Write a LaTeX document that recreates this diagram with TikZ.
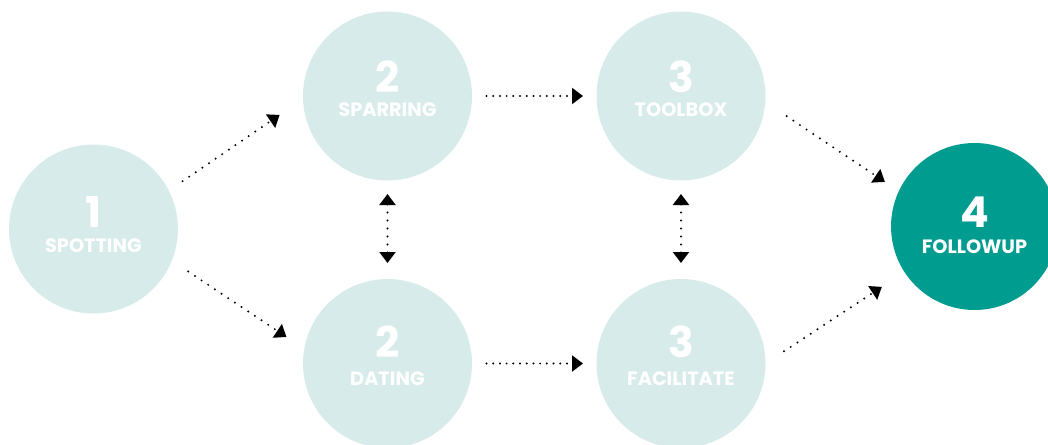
\documentclass[tikz,border=0pt]{standalone}
\usepackage{fontspec}
\setmainfont{Poppins}
\usetikzlibrary{arrows.meta}
\definecolor{mist}{HTML}{D7EBEA}
\definecolor{deepteal}{HTML}{009C8F}
\tikzset{
  stage/.style={circle, fill=mist, minimum size=169pt, inner sep=0pt, outer sep=0pt},
  finalstage/.style={stage, fill=deepteal, minimum size=167pt},
  num/.style={text=white, font=\fontsize{42.5}{42.5}\selectfont\bfseries, anchor=base, inner sep=0pt},
  lbl/.style={text=white, font=\fontsize{19.3}{19.3}\selectfont\bfseries, anchor=base, inner sep=0pt},
  flow/.style={line width=2.2pt, line cap=round, dash pattern=on 0pt off 8pt, ->},
  flowh/.style={flow, dash pattern=on 0pt off 6.7pt},
  twoway/.style={flow, <->},
}
\begin{document}
\begin{tikzpicture}[x=1pt, y=-1pt, >={Triangle[length=11pt,width=16pt]}]
\useasboundingbox (0,0) rectangle (1048,444);

% stages
\node[stage] (c1)  at (93.5,229)   {};
\node[stage] (c2a) at (387.5,96)   {};
\node[stage] (c3a) at (681,96)     {};
\node[stage] (c2b) at (387.5,363.5) {};
\node[stage] (c3b) at (681,363.5)  {};
\node[finalstage] (c4) at (974.5,226.5) {};

% numbers and names
\node[num] (n1)  at (93.5,227)  {1};
\node[lbl] (l1)  at (93.5,252.3) {SPOTTING};
\node[num] (n2a) at (387.5,92.3) {2};
\node[lbl] (l2a) at (387.5,116.7) {SPARRING};
\node[num] (n3a) at (681,92.3)  {3};
\node[lbl] (l3a) at (681,116.7) {TOOLBOX};
\node[num] (n2b) at (387.5,357.3) {2};
\node[lbl] (l2b) at (387.5,385.7) {DATING};
\node[num] (n3b) at (681,357.3) {3};
\node[lbl] (l3b) at (681,385.7) {FACILITATE};
\node[num] (n4)  at (974.5,227.3) {4};
\node[lbl] (l4)  at (974.5,253) {FOLLOWUP};

% connectors
\draw[flow, shorten <=16.7pt, shorten >=28.4pt] (c1.27) -- (c2a.182);
\draw[flow, shorten <=19.7pt, shorten >=21.4pt] (c1.338) -- (c2b.170);
\draw[flowh, shorten <=14.5pt, shorten >=13.5pt] (c2a.east) -- (c3a.west);
\draw[flowh, shorten <=14.5pt, shorten >=13.5pt] (c2b.east) -- (c3b.west);
\draw[twoway, shorten <=13.5pt, shorten >=16pt] (c2a.south) -- (c2b.north);
\draw[twoway, shorten <=13.5pt, shorten >=16pt] (c3a.south) -- (c3b.north);
\draw[flow, shorten <=25.7pt, shorten >=16.8pt] (c3a.356) -- (c4.155);
\draw[flow, shorten <=22.2pt, shorten >=27.1pt] (c3b.0) -- (c4.213);
\end{tikzpicture}
\end{document}
